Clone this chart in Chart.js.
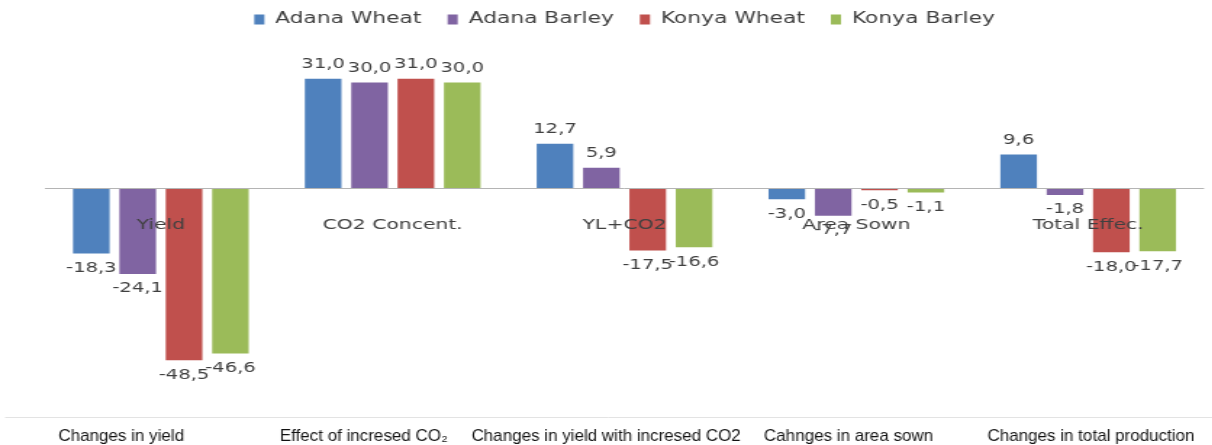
<!DOCTYPE html>
<html>
<head>
<meta charset="utf-8">
<script src="https://cdn.jsdelivr.net/npm/chart.js@4"></script>
<style>
  html, body { margin: 0; padding: 0; background: #fff; overflow: hidden; }
  /* the reference is a horizontally stretched picture, so stretch the canvas the same way */
  #wrap { width: 836px; height: 445px; transform: scaleX(1.45); transform-origin: 0 0; }
</style>
</head>
<body>
<div id="wrap"><canvas id="chart"></canvas></div>
<script>
const STRETCH = 1.45;

const categories = ['Yield', 'CO2 Concent.', 'YL+CO2', 'Area Sown', 'Total Effec.'];
const bottomLabels = ['Changes in yield', 'Effect of incresed CO\u2082', 'Changes in yield with incresed CO2', 'Cahnges in area sown', 'Changes in total production'];

const adanaWheat  = [-18.3, 31.0, 12.7, -3.0, 9.6];
const adanaBarley = [-24.1, 30.0, 5.9, -7.7, -1.8];
const konyaWheat  = [-48.5, 31.0, -17.5, -0.5, -18.0];
const konyaBarley = [-46.6, 30.0, -16.6, -1.1, -17.7];

// a bit more room under the legend
const legendGap = {
    id: 'legendGap',
    beforeInit(chart) {
        const fit = chart.legend.fit;
        chart.legend.fit = function() {
            fit.call(this);
            this.height += 10;
        };
    }
};

// value labels + category names next to the zero line
const barLabels = {
    id: 'barLabels',
    afterDatasetsDraw(chart) {
        const ctx = chart.ctx;
        const zeroY = chart.scales.y.getPixelForValue(0);
        ctx.save();
        ctx.fillStyle = '#404040';
        ctx.textAlign = 'center';
        ctx.textBaseline = 'middle';

        ctx.font = '14px "DejaVu Sans"';
        categories.forEach((c, i) => {
            ctx.fillText(c, chart.scales.x.getPixelForValue(i), zeroY + 37);
        });

        ctx.font = '13.5px "DejaVu Sans"';
        chart.data.datasets.forEach((ds, di) => {
            chart.getDatasetMeta(di).data.forEach((bar, i) => {
                const v = ds.data[i];
                const y = v >= 0 ? bar.y - 14 : bar.y + 15;
                ctx.fillText(v.toFixed(1).replace('.', ','), bar.x, y);
            });
        });
        ctx.restore();
    }
};

// the row of long captions under the chart, drawn unstretched
const captionRow = {
    id: 'captionRow',
    afterDraw(chart) {
        const ctx = chart.ctx;
        const lineY = chart.chartArea.bottom + 16.5;
        const fullW = chart.width * STRETCH;
        ctx.save();
        ctx.scale(1 / STRETCH, 1);
        ctx.strokeStyle = '#dedede';
        ctx.lineWidth = 1;
        ctx.beginPath();
        ctx.moveTo(5, lineY);
        ctx.lineTo(fullW, lineY);
        ctx.stroke();

        ctx.font = '17px "Liberation Sans"';
        ctx.fillStyle = '#111';
        ctx.textAlign = 'center';
        ctx.textBaseline = 'alphabetic';
        bottomLabels.forEach((t, i) => {
            ctx.fillText(t, (i + 0.5) * fullW / bottomLabels.length, chart.chartArea.bottom + 40);
        });
        ctx.restore();
    }
};

new Chart(document.getElementById('chart'), {
    type: 'bar',
    data: {
        labels: categories,
        datasets: [
            { label: 'Adana Wheat', data: adanaWheat, backgroundColor: '#4F81BD' },
            { label: 'Adana Barley', data: adanaBarley, backgroundColor: '#8064A2' },
            { label: 'Konya Wheat', data: konyaWheat, backgroundColor: '#C0504D' },
            { label: 'Konya Barley', data: konyaBarley, backgroundColor: '#9BBB59' }
        ]
    },
    options: {
        responsive: true,
        maintainAspectRatio: false,
        animation: false,
        layout: { padding: { left: 31, right: 5.6, top: -6, bottom: 44 } },
        datasets: {
            bar: { categoryPercentage: 0.8, barPercentage: 0.79 }
        },
        plugins: {
            tooltip: { enabled: false },
            legend: {
                position: 'top',
                labels: {
                    boxWidth: 7,
                    boxHeight: 10,
                    padding: 18,
                    color: '#404040',
                    font: { family: '"DejaVu Sans"', size: 15 }
                }
            }
        },
        scales: {
            x: { display: false },
            y: {
                min: -60,
                max: 40,
                ticks: { display: false, stepSize: 10 },
                border: { display: false },
                grid: {
                    drawTicks: false,
                    color: c => c.tick.value === 0 ? '#b4b4b4' : 'transparent'
                }
            }
        }
    },
    plugins: [legendGap, barLabels, captionRow]
});
</script>
</body>
</html>
